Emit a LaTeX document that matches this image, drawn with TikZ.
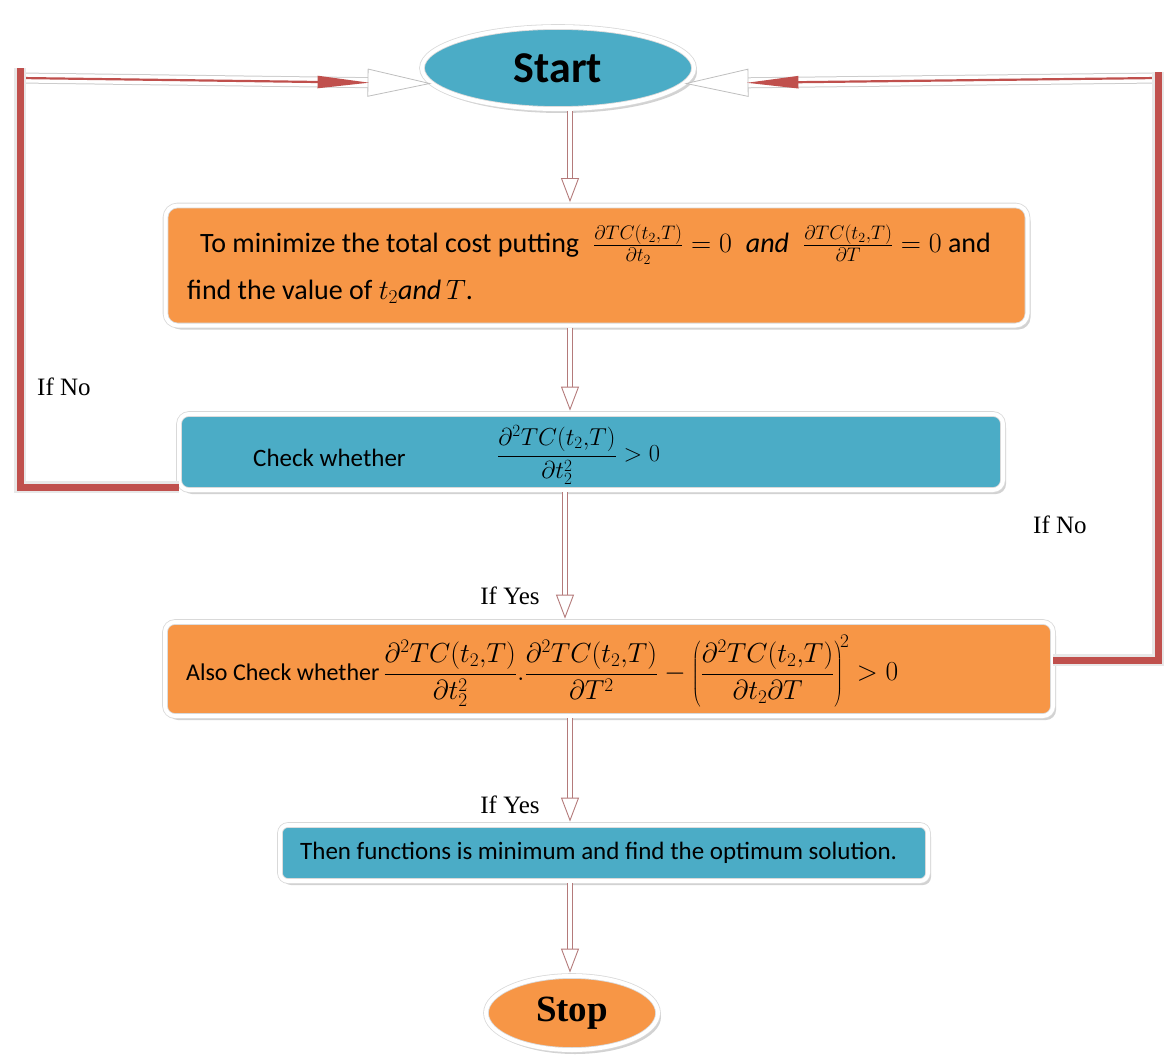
\RequirePackage{fix-cm}
\documentclass[tikz,border=0pt]{standalone}
\usepackage{fontspec}
\setmainfont{Carlito}
\newfontfamily\timesf{Liberation Serif}
\usetikzlibrary{arrows.meta,shadows,calc,shapes.geometric}
\definecolor{cblue}{HTML}{4BACC6}
\definecolor{corange}{HTML}{F79646}
\definecolor{cred}{HTML}{C0504D}
\definecolor{cpink}{HTML}{B47A7A}
\begin{document}
\begin{tikzpicture}[x=1pt,y=-1pt,
  boxshape/.style={draw=gray!30, line width=0.8pt, double=white, double distance=4pt,
    rounded corners=12pt, inner sep=0pt,
    drop shadow={shadow xshift=3pt, shadow yshift=-4pt, fill=gray!70, opacity=0.5}},
  ovalshape/.style={ellipse, draw=gray!30, line width=0.8pt, double=white, double distance=4pt,
    inner sep=0pt,
    drop shadow={shadow xshift=3pt, shadow yshift=-4pt, fill=gray!70, opacity=0.5}},
  txt/.style={inner sep=0pt, anchor=west, text=black},
  iflabel/.style={inner sep=0pt, font=\timesf\fontsize{25}{30}\selectfont},
  downarr/.style={draw=white, line width=0.5pt, shorten <=2pt, shorten >=3pt,
    preaction={draw=cpink, line width=6.6pt, arrows=-, shorten <=2pt, shorten >=20pt},
    preaction={draw=white, line width=4.6pt, arrows=-, shorten <=2pt, shorten >=19pt},
    -{Triangle[open, length=24pt, width=18pt, line width=0.9pt, color=cpink, fill=white]}},
  loopline/.style={draw=cred, line width=7pt, line join=miter,
    preaction={draw=gray!18, line width=12pt}},
  toparrow/.style={draw=white, line width=0.5pt,
    preaction={draw=gray!40, line width=11pt, arrows=-, shorten >=60pt},
    preaction={draw=white, line width=9pt, arrows=-, shorten >=59pt},
    -{Triangle[open, length=64pt, width=28pt, line width=0.8pt, color=gray!50, fill=white]}},
  topred/.style={draw=cred, line width=2.2pt, shorten >=62pt,
    -{Triangle[length=52pt, width=12pt]}}
]
\useasboundingbox (0,0) rectangle (1165,1062);

\coordinate (colA) at (570,0);
\coordinate (colB) at (565,0);

% ---- nodes ----
\node[ovalshape, fill=cblue, minimum width=272, minimum height=82] (start) at (558,68)
  {\fontsize{44}{50}\selectfont\bfseries Start};
\node[boxshape, fill=corange, minimum width=862, minimum height=120] (b1) at (596.5,265.5) {};
\node[boxshape, fill=cblue, minimum width=824, minimum height=76, rounded corners=10pt] (b2) at (591,452) {};
\node[boxshape, fill=corange, minimum width=888, minimum height=94, rounded corners=10pt] (b3) at (609,669) {};
\node[boxshape, fill=cblue, minimum width=648, minimum height=56, rounded corners=8pt] (b4) at (604,853) {};
\node[ovalshape, fill=corange, minimum width=172, minimum height=74] (stop) at (572,1013)
  {\timesf\fontsize{37}{42}\selectfont\bfseries Stop};

% ---- left loop ----
\coordinate (l1) at (20,487);
\coordinate (l2) at (20,78);
\draw[toparrow] (l2) -- (start.187);
\draw[topred] (l2) -- (start.187);
\draw[loopline] (b2.west |- l1) -- (l1) -- ($(l2)+(0,-10)$);
\node[iflabel, anchor=west] (ifno1) at (37,387) {If No};

% ---- right loop ----
\coordinate (r1) at (1158,660);
\coordinate (r2) at (1158,78);
\draw[toparrow] (r2) -- (start.353);
\draw[topred] (r2) -- (start.353);
\draw[loopline] (b3.east |- r1) -- (r1) -- ($(r2)+(0,-6)$);
\node[iflabel, anchor=west] (ifno2) at (1033,525) {If No};

% ---- texts ----
\node[txt] (t1a) at (200,245) {\fontsize{28}{32}\selectfont To minimize the total cost putting\enspace
  $\frac{\partial TC(t_2{,}T)}{\partial t_2} = 0\enspace\mathit{and}\enspace\frac{\partial TC(t_2{,}T)}{\partial T} = 0$\ and};
\node[txt] (t1b) at (187,292) {\fontsize{28}{32}\selectfont find the value of $t_2\mathit{and}\,T$.};

\node[txt] (t2a) at (253,458) {\fontsize{25}{29}\selectfont Check whether};
\node[txt] (t2b) at (497,455) {\fontsize{24.5}{29}\selectfont $\displaystyle\frac{\partial^2 TC(t_2{,}T)}{\partial t_2^2} > 0$};

\node[txt] (t3) at (186,671) {\fontsize{24}{28}\selectfont Also Check whether\,%
  \fontsize{27.5}{32}\selectfont$\displaystyle\frac{\partial^2 TC(t_2{,}T)}{\partial t_2^2}.\frac{\partial^2 TC(t_2{,}T)}{\partial T^2} - \left(\frac{\partial^2 TC(t_2{,}T)}{\partial t_2\partial T}\right)^{\!2} > 0$};

\node[txt] (t4) at (300,853) {\fontsize{25}{29}\selectfont Then functions is minimum and find the optimum solution.};

% ---- down arrows ----
\draw[downarr] (start.south -| colA) -- (b1.north -| colA);
\draw[downarr] (b1.south -| colA) -- (b2.north -| colA);
\draw[downarr] (b2.south -| colB) -- (b3.north -| colB);
\draw[downarr] (b3.south -| colA) -- (b4.north -| colA);
\draw[downarr] (b4.south -| colA) -- (stop.north -| colA);

\node[iflabel] (ify1) at (510,596) {If Yes};
\node[iflabel] (ify2) at (510,805) {If Yes};
\end{tikzpicture}
\end{document}
